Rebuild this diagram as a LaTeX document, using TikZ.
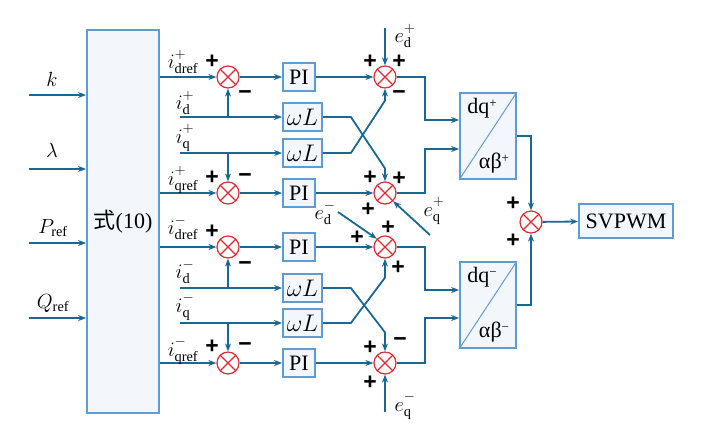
\RequirePackage{fix-cm}
\documentclass[tikz,border=0pt]{standalone}
\usepackage{fontspec}
\setmainfont{Liberation Serif}
\newfontfamily\cjk{Noto Sans CJK SC}
\newfontfamily\sgnfont{Liberation Sans}
\usetikzlibrary{arrows.meta,calc}
\definecolor{lnc}{RGB}{26,104,146}
\definecolor{bxc}{RGB}{96,156,212}
\definecolor{bxf}{RGB}{243,247,252}
\definecolor{smr}{RGB}{222,42,52}
\newcommand\sgv[3]{$#1^{\raisebox{3pt}{$\scriptstyle #2$}}_{\mathrm{#3}}$}
\tikzset{
  arr/.style={draw=lnc,line width=1.8pt,-{Stealth[length=8pt,width=6pt]}},
  blk/.style={draw=bxc,fill=bxf,line width=1.8pt,inner sep=0pt,font=\fontsize{22}{24}\selectfont},
  sumnode/.style={circle,draw=smr,line width=1.2pt,minimum size=22pt,inner sep=0pt,fill=white,
    path picture={\draw[smr,line width=1.2pt] (path picture bounding box.north west)--(path picture bounding box.south east) (path picture bounding box.north east)--(path picture bounding box.south west);}},
  sg/.style={font=\sgnfont\bfseries\fontsize{23}{23}\selectfont,inner sep=0pt},
  lbl/.style={font=\fontsize{20.5}{22}\selectfont,inner sep=0pt},
}
\begin{document}
\begin{tikzpicture}[x=1pt,y=-1pt]
\useasboundingbox (0,0) rectangle (727,440);
% main box
\node[blk,minimum width=72pt,minimum height=383pt] (eq) at (123,221.5) {{\cjk 式}(10)};
% inputs
\coordinate (ink) at (29,95);
\coordinate (inl) at (29,169);
\coordinate (inp) at (29,243);
\coordinate (inq) at (29,318);
\draw[arr] (ink) -- (ink -| eq.west);
\draw[arr] (inl) -- (inl -| eq.west);
\draw[arr] (inp) -- (inp -| eq.west);
\draw[arr] (inq) -- (inq -| eq.west);
\node[lbl] (lk) at (52,79) {$k$};
\node[lbl] (ll) at (52,150) {$\lambda$};
\node[lbl] (lp) at (53,228) {$P_{\mathrm{ref}}$};
\node[lbl] (lq) at (53,303) {$Q_{\mathrm{ref}}$};
% sums
\node[sumnode] (s1) at (228,77) {};
\node[sumnode] (s2) at (385,77) {};
\node[sumnode] (s3) at (228,193) {};
\node[sumnode] (s4) at (385,193) {};
\node[sumnode] (s6) at (228,247) {};
\node[sumnode] (s7) at (385,247) {};
\node[sumnode] (s8) at (228,363) {};
\node[sumnode] (s9) at (385,363) {};
\node[sumnode] (s5) at (531,222) {};
% blocks
\node[blk,minimum width=32pt,minimum height=28pt] (p1) at (299,77) {PI};
\node[blk,minimum width=32pt,minimum height=28pt] (p2) at (299,193) {PI};
\node[blk,minimum width=32pt,minimum height=28pt] (p3) at (299,247) {PI};
\node[blk,minimum width=32pt,minimum height=28pt] (p4) at (299,363) {PI};
\node[blk,minimum width=39pt,minimum height=28pt,font=\fontsize{24}{26}\selectfont] (w1) at (302.5,117) {$\omega L$};
\node[blk,minimum width=39pt,minimum height=28pt,font=\fontsize{24}{26}\selectfont] (w2) at (302.5,153) {$\omega L$};
\node[blk,minimum width=39pt,minimum height=28pt,font=\fontsize{24}{26}\selectfont] (w3) at (302.5,288) {$\omega L$};
\node[blk,minimum width=39pt,minimum height=28pt,font=\fontsize{24}{26}\selectfont] (w4) at (302.5,323) {$\omega L$};
\node[blk,minimum width=56pt,minimum height=86pt] (dq1) at (488,136) {};
\node[blk,minimum width=56pt,minimum height=86pt] (dq2) at (488,305) {};
\draw[bxc,line width=1pt] (dq1.south west) -- (dq1.north east);
\draw[bxc,line width=1pt] (dq2.south west) -- (dq2.north east);
\node[font=\fontsize{22}{24}\selectfont,inner sep=0pt] (t1a) at (482,108) {dq\raisebox{6pt}{\fontsize{13}{13}\selectfont +}};
\node[font=\fontsize{22}{24}\selectfont,inner sep=0pt] (t1b) at (494,163) {αβ\raisebox{6pt}{\fontsize{13}{13}\selectfont +}};
\node[font=\fontsize{22}{24}\selectfont,inner sep=0pt] (t2a) at (482,277) {dq\raisebox{6pt}{\fontsize{13}{13}\selectfont −}};
\node[font=\fontsize{22}{24}\selectfont,inner sep=0pt] (t2b) at (494,332) {αβ\raisebox{6pt}{\fontsize{13}{13}\selectfont −}};
\node[blk,minimum width=94pt,minimum height=34pt] (sv) at (626,221) {SVPWM};
% upper half
\draw[arr] (s1 -| eq.east) -- (s1);
\draw[arr] (s1) -- (p1);
\draw[arr] (p1) -- (s2);
\coordinate (id1) at (180,117);
\coordinate (iq1) at (180,153);
\draw[arr] (id1) -- (w1.west);
\draw[arr] (iq1) -- (w2.west);
\draw[arr] (s1 |- id1) -- (s1.south);
\draw[arr] (s3 |- iq1) -- (s3.north);
\draw[arr] (s3 -| eq.east) -- (s3);
\draw[arr] (s3) -- (p2);
\draw[arr] (p2) -- (s4);
\draw[arr] (w1.east) -- +(28,0) -- ([yshift=13pt]s4.north) -- (s4.north);
\draw[arr] (w2.east) -- +(28,0) -- ([yshift=-12pt]s2.south) -- (s2.south);
\coordinate (ed1) at (385,28);
\draw[arr] (ed1) -- (s2.north);
\coordinate (eq1) at (430,235);
\draw[arr] (eq1) -- (s4.south east);
\draw[arr] (s2.east) -- ++(28,0) |- ([yshift=16pt]dq1.west);
\draw[arr] (s4.east) -- ++(28,0) |- ([yshift=-13pt]dq1.west);
% lower half
\draw[arr] (s6 -| eq.east) -- (s6);
\draw[arr] (s6) -- (p3);
\draw[arr] (p3) -- (s7);
\coordinate (id2) at (180,288);
\coordinate (iq2) at (180,323);
\draw[arr] (id2) -- (w3.west);
\draw[arr] (iq2) -- (w4.west);
\draw[arr] (s6 |- id2) -- (s6.south);
\draw[arr] (s8 |- iq2) -- (s8.north);
\draw[arr] (s8 -| eq.east) -- (s8);
\draw[arr] (s8) -- (p4);
\draw[arr] (p4) -- (s9);
\draw[arr] (w3.east) -- +(28,0) -- ([yshift=19pt]s9.north) -- (s9.north);
\draw[arr] (w4.east) -- +(28,0) -- ([yshift=-19pt]s7.south) -- (s7.south);
\coordinate (eq2) at (385,412);
\draw[arr] (eq2) -- (s9.south);
\coordinate (ed2) at (338,212);
\draw[arr] (ed2) -- (s7.north west);
\draw[arr] (s7.east) -- ++(28,0) |- ([yshift=15pt]dq2.west);
\draw[arr] (s9.east) -- ++(28,0) |- ([yshift=-13pt]dq2.west);
% output
\draw[arr] (dq1.east) -| (s5.north);
\draw[arr] (dq2.east) -| (s5.south);
\draw[arr] (s5) -- (sv);
% signal labels
\node[lbl] (la) at (183,62) {\sgv{i}{+}{dref}};
\node[lbl] (lb) at (185,103) {\sgv{i}{+}{d}};
\node[lbl] (lc) at (185,138) {\sgv{i}{+}{q}};
\node[lbl] (ld) at (183,180) {\sgv{i}{+}{qref}};
\node[lbl] (le) at (183,228) {\sgv{i}{-}{dref}};
\node[lbl] (lf) at (185,272) {\sgv{i}{-}{d}};
\node[lbl] (lg) at (185,307) {\sgv{i}{-}{q}};
\node[lbl] (lh) at (183,351) {\sgv{i}{-}{qref}};
\node[lbl] (le1) at (405,36) {\sgv{e}{+}{d}};
\node[lbl] (le2) at (434,211) {\sgv{e}{+}{q}};
\node[lbl] (le3) at (325,213) {\sgv{e}{-}{d}};
\node[lbl] (le4) at (405,406) {\sgv{e}{-}{q}};
% signs
\node[sg] (g1) at (212,62) {+};
\node[sg] (g2) at (245,95) {−};
\node[sg] (g3) at (370,62) {+};
\node[sg] (g4) at (399,62) {+};
\node[sg] (g5) at (399,95) {−};
\node[sg] (g6) at (212,178) {+};
\node[sg] (g7) at (245,178) {−};
\node[sg] (g8) at (370,178) {+};
\node[sg] (g9) at (399,179) {+};
\node[sg] (g10) at (368,210) {+};
\node[sg] (g11) at (212,232) {+};
\node[sg] (g12) at (245,266) {−};
\node[sg] (g13) at (357,238) {+};
\node[sg] (g14) at (388,228) {+};
\node[sg] (g15) at (398,268) {+};
\node[sg] (g16) at (212,347) {+};
\node[sg] (g17) at (245,347) {−};
\node[sg] (g18) at (370,348) {+};
\node[sg] (g19) at (400,342) {−};
\node[sg] (g20) at (370,383) {+};
\node[sg] (g21) at (513,204) {+};
\node[sg] (g22) at (513,241) {+};
\end{tikzpicture}
\end{document}
